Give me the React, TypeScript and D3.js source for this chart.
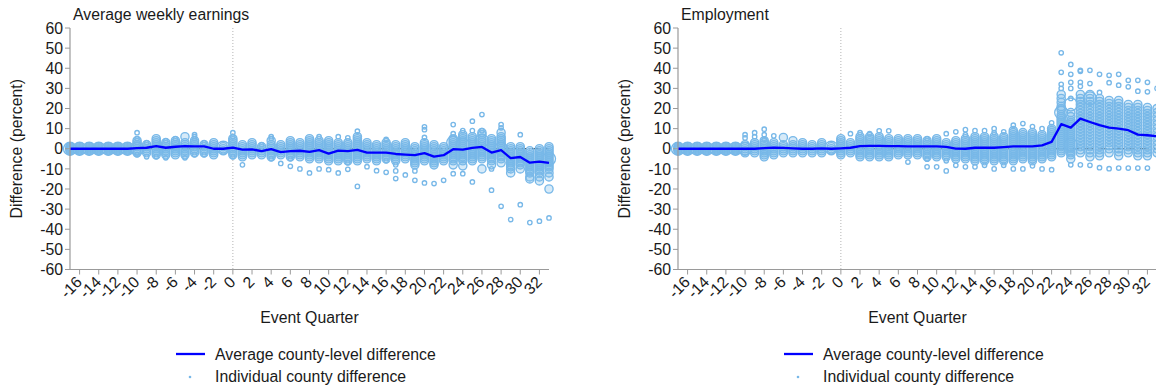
import React from 'react';
import * as d3 from 'd3';

// event quarters (x categories)
const quarters = [
  -17, -16, -15, -14, -13, -12, -11, -10, -9, -8, -7, -6, -5, -4, -3, -2, -1,
  0, 1, 2, 3, 4, 5, 6, 7, 8, 9, 10, 11, 12, 13, 14, 15, 16, 17, 18, 19, 20,
  21, 22, 23, 24, 25, 26, 27, 28, 29, 30, 31, 32, 33,
];
const xTicks = [-16, -14, -12, -10, -8, -6, -4, -2, 0, 2, 4, 6, 8, 10, 12, 14, 16, 18, 20, 22, 24, 26, 28, 30, 32];
const yTicks = [-60, -50, -40, -30, -20, -10, 0, 10, 20, 30, 40, 50, 60];

// average county-level difference, one value per quarter
const earnAvg = [
  0, 0, 0, 0, 0, 0, 0, 0.3, 0.5, 1.3, 0.5, 1, 1.3, 1.2, 1.2, 0, 0,
  0.6, -0.4, -0.3, -1.2, -0.2, -1.7, -1.2, -1, -1.6, -0.7, -2.4, -0.9, -1.2, -0.6, -1.9, -1.9,
  -1.9, -2.6, -2.9, -3.2, -2.2, -3.9, -3.2, -0.2, -0.4, 0.4, 0.9, -1.9, -0.7, -4.7, -4.1, -6.9, -6.4, -7.0,
];
const emplAvg = [
  0, 0, 0, 0, 0, 0, 0, 0, 0, 0.3, 0.6, 0.4, 0.2, 0, 0, 0.2, 0,
  0.2, 0.5, 1.3, 1.4, 1.4, 1.3, 1.3, 1.2, 1.2, 1.2, 1.2, 0.9, 0.1, 0, 0.5, 0.5,
  0.5, 0.8, 1.2, 1.2, 1.2, 1.7, 3.4, 12.2, 10.5, 15, 13.3, 11.7, 10.5, 10, 9.2, 7, 6.7, 6.2,
];

// individual county differences, typical-size counties, one list per quarter
const earnMid = [
  [1, 0.5, 0, -0.5, -1], // -17
  [1, 0.5, 0, -0.5, -1],
  [1, 0.5, 0, -0.5, -1],
  [1, 0.5, 0, -0.5, -1],
  [1, 0.5, 0, -0.5, -1],
  [1, 0.5, 0, -0.5, -1],
  [1, 0.5, 0, -0.5, -1], // -11
  [4, 3, 2, 1, 0, -1, -2],
  [2, 1, 0, -1, -2],
  [5, 4, 3, 2, 1, 0, -1, -2, -3],
  [3, 2, 1, 0, -1, -2, -3],
  [4, 3, 2, 1, 0, -1, -2, -3],
  [6, 3, 2, 1, 0, -1, -2, -3],
  [4, 3, 2, 1, 0, -1, -2],
  [2, 1, 0, -1, -2],
  [3, 2, 1, 0, -1, -2, -3],
  [1, 0, -1], // -1
  [5, 4, 3, 2, 1, 0, -1, -2, -3], // 0
  [2, 1, 0, -1, -2, -3, -4],
  [3, 2, 1, 0, -1, -2, -3],
  [1, 0, -1, -2, -3],
  [4, 2, 1, 0, -1, -2, -3, -4],
  [2, 1, 0, -1, -2, -3],
  [4, 3, 2, 1, 0, -1, -2, -3, -4],
  [3, 2, 1, 0, -1, -2, -3, -4],
  [5, 4, 3, 2, 1, 0, -1, -2, -3, -4, -5], // 8
  [4, 3, 2, 1, 0, -1, -2, -3, -4, -5],
  [4, 3, 2, 1, 0, -1, -2, -3, -4, -5, -6],
  [3, 2, 1, 0, -1, -2, -3, -4, -5, -6],
  [3, 2, 1, 0, -1, -2, -3, -4, -5, -6],
  [6, 5, 4, 3, 2, 1, 0, -1, -2, -3, -4, -5, -6],
  [3, 2, 1, 0, -1, -2, -3, -4, -5],
  [2, 1, 0, -1, -2, -3, -4, -5, -6],
  [3, 2, 1, 0, -1, -2, -3, -4, -5], // 16
  [2, 1, 0, -1, -2, -3, -4, -5, -6],
  [3, 2, 1, 0, -1, -2, -3, -4, -5],
  [1, 0, -1, -2, -3, -4, -5, -6, -7, -8],
  [3, 2, 1, 0, -1, -2, -3, -4, -5, -6],
  [2, 1, 0, -1, -2, -3, -4, -5, -6, -7, -8],
  [1, 0, -1, -2, -3, -4, -5, -6],
  [5, 4, 3, 2, 1, 0, -1, -2, -3, -4, -5, -6, -8],
  [7, 6, 5, 4, 3, 2, 1, 0, -1, -2, -3, -4, -5, -6, -8.5], // 24
  [6, 5, 4, 3, 2, 1, 0, -1, -2, -3, -4, -5, -6],
  [8, 7, 5, 4, 3, 2, 1, 0, -1, -2, -3, -4, -5, -10],
  [5, 4, 3, 2, 1, 0, -1, -2, -3, -4, -5, -6, -8],
  [8, 6, 5, 4, 3, 2, 1, 0, -1, -2, -3, -4, -5, -7],
  [1, 0, -1, -2, -3, -4, -5, -6, -7, -8, -9, -10, -12],
  [1, 0, -1, -2, -3, -4, -5, -6, -7, -8, -10],
  [-1, -2, -3, -4, -5, -6, -7, -8, -9, -10, -11, -12, -14, -15],
  [0, -1, -2, -3, -4, -5, -6, -7, -8, -9, -10, -11, -12, -14, -16],
  [1, 0, -1, -2, -3, -4, -5, -6, -7, -8, -9, -10, -12, -14, -20], // 33
];

const emplMid = [
  [1, 0.5, 0, -0.5, -1], // -17
  [1, 0.5, 0, -0.5, -1],
  [1, 0.5, 0, -0.5, -1],
  [1, 0.5, 0, -0.5, -1],
  [1, 0.5, 0, -0.5, -1],
  [1, 0.5, 0, -0.5, -1],
  [1, 0.5, 0, -0.5, -1], // -11
  [2, 1, 0, -1, -2],
  [3, 2, 1, 0, -1, -2],
  [4, 3, 2, 1, 0, -1, -2, -3, -4],
  [3, 2, 1, 0, -1, -2, -3],
  [5.6, 2, 1, 0, -1, -2],
  [4, 2, 1, 0, -1, -2],
  [3, 2, 1, 0, -1, -2],
  [2, 1, 0, -1, -2],
  [3, 2, 1, 0, -1, -2],
  [1, 0, -1], // -1
  [5, 4, 3, 2, 1, 0, -1, -2, -3], // 0
  [3, 2, 1, 0, -1, -2],
  [6, 5, 4, 3, 2, 1, 0, -1, -2, -3, -4],
  [6, 5, 4, 3, 2, 1, 0, -1, -2, -3, -4],
  [6, 5, 4, 3, 2, 1, 0, -1, -2, -3, -4],
  [5, 4, 3, 2, 1, 0, -1, -2, -3, -4],
  [5, 4, 3, 2, 1, 0, -1, -2, -3],
  [5, 4, 3, 2, 1, 0, -1, -2, -3],
  [5, 4, 3, 2, 1, 0, -1, -2, -3], // 8
  [4, 3, 2, 1, 0, -1, -2, -3, -4],
  [5, 4, 3, 2, 1, 0, -1, -2, -3, -4],
  [3, 2, 1, 0, -1, -2, -3, -4],
  [4, 3, 2, 1, 0, -1, -2, -3, -4, -5],
  [5, 4, 3, 2, 1, 0, -1, -2, -3, -4, -5],
  [6, 5, 4, 3, 2, 1, 0, -1, -2, -3, -4, -5, -6],
  [6, 5, 4, 3, 2, 1, 0, -1, -2, -3, -4, -5, -6],
  [6, 5, 4, 3, 2, 1, 0, -1, -2, -3, -4, -5, -6], // 16
  [6, 5, 4, 3, 2, 1, 0, -1, -2, -3, -4, -5, -6],
  [9, 8, 7, 6, 5, 4, 3, 2, 1, 0, -1, -2, -3, -4, -5, -6],
  [8, 7, 6, 5, 4, 3, 2, 1, 0, -1, -2, -3, -4, -5],
  [8, 7, 6, 5, 4, 3, 2, 1, 0, -1, -2, -3, -4, -5, -6],
  [7, 6, 5, 4, 3, 2, 1, 0, -1, -2, -3, -4, -5],
  [10, 9, 8, 7, 6, 5, 4, 3, 2, 1, 0, -1, -2, -3, -4],
  [27, 25, 23, 21, 20, 19, 17, 16, 15, 14, 13, 12, 11, 10, 9, 8, 7, 6, 5, 4, 3, 2, 1, 0, -1, -2],
  [18, 16, 14, 13, 12, 11, 10, 9, 8, 7, 6, 5, 4, 3, 2, 1, 0, -1, -2, -3, -5], // 24
  [27, 25, 23.5, 22, 20.5, 19, 17.5, 16, 14.5, 13, 11.5, 10, 8.5, 7, 5.5, 4, 2.5, 1, -0.5, -2],
  [27, 25, 23.5, 22, 20.5, 19, 17.5, 16, 14.5, 13, 11.5, 10, 8.5, 7, 5.5, 4, 2.5, 1, -0.5, -2, -4],
  [25, 23.5, 22, 20.5, 19, 17.5, 16, 14.5, 13, 11.5, 10, 8.5, 7, 5.5, 4, 2.5, 1, -0.5, -2, -3.5],
  [24, 22.5, 21, 19.5, 18, 16.5, 15, 13.5, 12, 10.5, 9, 7.5, 6, 4.5, 3, 1.5, 0, -2],
  [24, 22.5, 21, 19.5, 18, 16.5, 15, 13.5, 12, 10.5, 9, 7.5, 6, 4.5, 3, 1.5, 0, -1.5, -3.5],
  [22, 20.5, 19, 17.5, 16, 14.5, 13, 11.5, 10, 8.5, 7, 5.5, 4, 2.5, 1, -0.5, -2],
  [22, 20.5, 19, 17.5, 16, 14.5, 13, 11.5, 10, 8.5, 7, 5.5, 4, 2.5, 1, -0.5, -2, -3.5],
  [20.5, 19, 17.5, 16, 14.5, 13, 11.5, 10, 8.5, 7, 5.5, 4, 2.5, 1, -0.5, -2, -3.5],
  [20, 18, 16, 14, 12, 10, 8, 6, 4, 2, 0, -2], // 33
];

// small counties / outliers: [quarter, difference]
const earnSmall = [
  [-10, 8], [-10, 5], [-10, -3], [-9, 3], [-9, -4], [-8, -4], [-7, 4], [-7, -4.5], [-6, 5], [-5, -4.5],
  [-4, 7], [-4, 6], [-4, 5], [-4, -3], [-3, 3], [-3, -3], [0, 8], [0, 6], [0, -4], [1, -8], [3, 2],
  [4, 5], [4, 6], [4, -5], [5, -7.3], [6, -8.7], [6, -5], [7, -10], [8, -12], [9, 6], [9, -10],
  [10, -10.4], [11, 6], [11, -12], [12, 5.4], [12, -7], [12, -10.2], [13, 8.7], [13, -18.7], [14, -8.9],
  [15, -10.9], [16, 4.6], [16, -6], [16, -11.7], [17, -8], [17, -11], [17, -14.8], [18, -13], [19, -11],
  [19, -15.7], [20, 10.9], [20, 9.5], [20, 5.6], [20, -17], [21, -17.3], [22, -15.7], [23, 12], [23, 7.5],
  [23, -12.4], [24, 9], [24, -12.4], [25, 13.7], [25, 9], [25, -16.5], [26, 17], [26, 9], [27, -10],
  [27, -20.6], [28, 12], [28, 10.4], [28, -28.6], [29, -35.2], [30, 7], [30, -27.8], [31, -36.7],
  [32, -36], [33, -34.4],
];
const emplSmall = [
  [-10, 7], [-10, 5.4], [-9, 8], [-9, 6], [-8, 9.7], [-8, 7], [-8, 4.6], [-7, 6.4], [1, 7.5], [2, 8],
  [3, 7.5], [4, 8.9], [5, 8.9], [7, -6.6], [9, 5], [9, -5.2], [9, -9], [10, -9], [11, 7.5], [11, -6],
  [11, -11], [12, 8.4], [12, -8.2], [13, 9.5], [13, 7], [13, -9], [14, 9], [14, -9], [15, 9], [15, -8.2],
  [16, 10], [16, 8], [16, -10], [17, 8.4], [17, -8.2], [18, 11.7], [18, -10], [19, 12.5], [19, -10],
  [20, 11], [20, -8.5], [21, 10], [21, -10], [22, 12.9], [22, -10.4], [23, 47.7], [23, 38], [23, 32],
  [23, 30], [24, 41.9], [24, 37], [24, 33], [24, 30], [24, 25], [24, -8], [25, 39], [25, 38.5], [25, 33],
  [25, 31], [25, -8], [26, 39], [26, 32.4], [26, -8.2], [27, 37], [27, 28], [27, -9.4], [28, 36.5],
  [28, 32.8], [28, -9.9], [29, 37], [29, 31.6], [29, -9.6], [30, 34], [30, 30.8], [30, -9.6], [31, 34],
  [31, 28.6], [31, -9.6], [32, 33], [32, 28.3], [32, -9.6], [33, 30],
];

// large counties: [quarter, difference]
const earnBig = [
  [-17, 0], [-16, 0], [-15, 0], [-14, 0], [-13, 0], [-12, 0], [-11, 0], [-10, 0], [-1, 0.5],
  [23, 3], [24, 2], [26, 4], [28, 0], [33, -5],
];
const emplBig = [
  [-17, 0], [-16, 0], [-15, 0], [-14, 0], [-13, 0], [-12, 0], [-11, 0], [-10, 0], [-1, 0.5],
  [23, 18], [24, 22], [24, 2], [26, 25],
];

const legendLabels = ['Average county-level difference', 'Individual county difference'];

const FONT = '"Liberation Sans", Arial, Helvetica, sans-serif';
const DOT = '#78b8e8';
const AXIS = '#9a9a9a';

type Pt = { q: number; v: number; k: string };

function Panel({ left, title, mid, small, big, avg }: any) {
  const x = d3.scaleLinear().domain([-17, 33]).range([left, left + 479]);
  const y = d3.scaleLinear().domain([-60, 60]).range([269.5, 28]);
  const rad = d3.scaleOrdinal<string, number>().domain(['big', 'mid', 'small']).range([6.5, 4.1, 2.2]);

  const pts: Pt[] = [
    ...big.map(([q, v]: number[]) => ({ q, v, k: 'big' })),
    ...mid.flatMap((vals: number[], i: number) => vals.map((v) => ({ q: quarters[i], v, k: 'mid' }))),
    ...small.map(([q, v]: number[]) => ({ q, v, k: 'small' })),
  ];

  const line = d3
    .line<number>()
    .x((_, i) => x(quarters[i]))
    .y((d) => y(d));

  const [y0, y1] = y.range();
  const [x0, x1] = x.range();

  return (
    <g fontFamily={FONT}>
      <text x={x0 + 3} y={19.5} fontSize={15.8} fill="#1a1a1a">{title}</text>

      {/* zero reference + event line */}
      <line x1={x0} x2={x1} y1={y(0)} y2={y(0)} stroke="#111" strokeWidth={1.1} strokeDasharray="9,2,1,2" />
      <line x1={x(0)} x2={x(0)} y1={y1} y2={y0} stroke="#b5b5b5" strokeWidth={1} strokeDasharray="1,2" />

      {pts.map((d, i) => (
        <circle
          key={i}
          cx={x(d.q)}
          cy={y(d.v)}
          r={rad(d.k)}
          fill={d.k === 'mid' ? DOT : 'none'}
          fillOpacity={d.k === 'mid' ? 0.3 : 0}
          stroke={DOT}
          strokeWidth={1.35}
        />
      ))}

      <path d={line(avg) || ''} fill="none" stroke="#0000ff" strokeWidth={2.3} strokeLinejoin="round" />

      {/* y axis */}
      <line x1={x0} x2={x0} y1={y1} y2={y0} stroke={AXIS} strokeWidth={1.2} />
      {yTicks.map((t) => (
        <g key={t}>
          <line x1={x0 - 5} x2={x0} y1={y(t)} y2={y(t)} stroke={AXIS} strokeWidth={1} />
          <text x={x0 - 7} y={y(t)} dy="0.36em" textAnchor="end" fontSize={15.8} fill="#1a1a1a">{t}</text>
        </g>
      ))}
      <text
        transform={`translate(${x0 - 48.5},${(y0 + y1) / 2}) rotate(-90)`}
        textAnchor="middle"
        fontSize={15.8}
        fill="#1a1a1a"
      >
        Difference (percent)
      </text>

      {/* x axis */}
      <line x1={x0} x2={x1} y1={y0} y2={y0} stroke={AXIS} strokeWidth={1.2} />
      {xTicks.map((t) => (
        <g key={t}>
          <line x1={x(t)} x2={x(t)} y1={y0} y2={y0 + 5} stroke={AXIS} strokeWidth={1} />
          <text
            transform={`translate(${x(t) + 3.5},${y0 + 13.5}) rotate(-45)`}
            textAnchor="end"
            fontSize={15.8}
            fill="#1a1a1a"
          >
            {t}
          </text>
        </g>
      ))}
      <text x={(x0 + x1) / 2} y={323} textAnchor="middle" fontSize={15.8} fill="#1a1a1a">Event Quarter</text>

      {/* legend */}
      <line x1={left + 106} x2={left + 135} y1={354} y2={354} stroke="#0000ff" strokeWidth={2.3} />
      <text x={left + 145} y={359.5} fontSize={15.8} fill="#1a1a1a">{legendLabels[0]}</text>
      <circle cx={left + 120} cy={377} r={1.3} fill={DOT} />
      <text x={left + 145} y={382} fontSize={15.8} fill="#1a1a1a">{legendLabels[1]}</text>
    </g>
  );
}

export default function App() {
  return (
    <svg
      width={1156}
      height={387}
      style={{ position: 'absolute', left: 0, top: 0, background: '#fff' }}
    >
      <Panel left={70} title="Average weekly earnings" mid={earnMid} small={earnSmall} big={earnBig} avg={earnAvg} />
      <Panel left={678} title="Employment" mid={emplMid} small={emplSmall} big={emplBig} avg={emplAvg} />
    </svg>
  );
}
